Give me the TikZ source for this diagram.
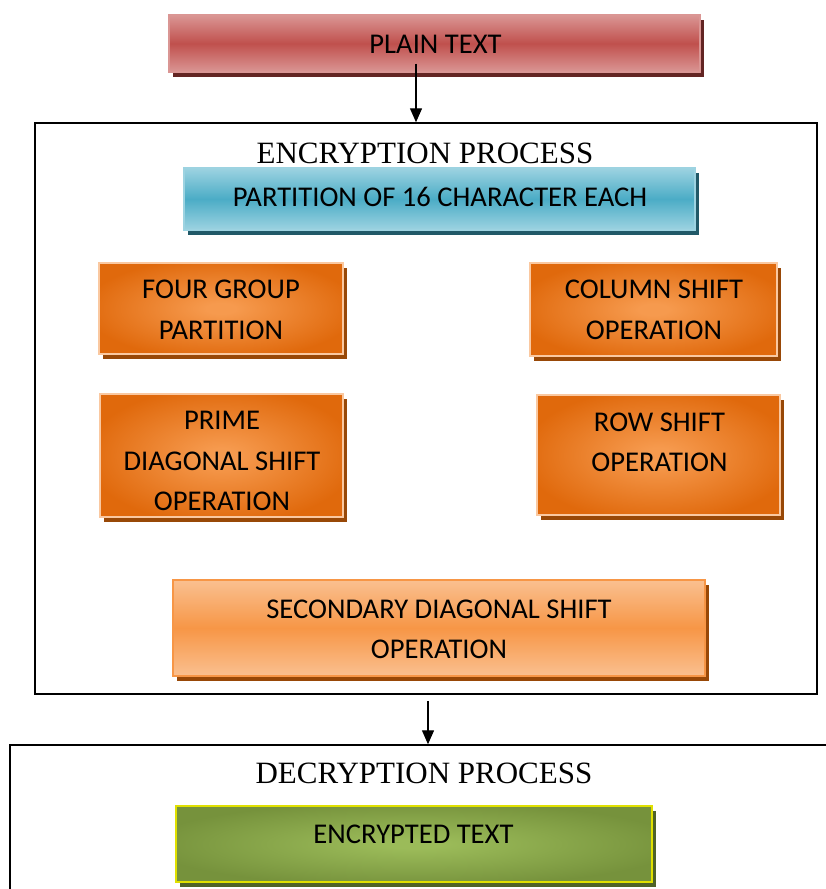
\documentclass[tikz,border=0pt]{standalone}
\usepackage{fontspec}
\setmainfont{Liberation Serif}
\newfontfamily\boxfont{Carlito}
\usetikzlibrary{arrows.meta,shadows}
\definecolor{plainM}{HTML}{C0504D}
\definecolor{plainL}{HTML}{DA9694}
\definecolor{plainS}{HTML}{632523}
\definecolor{partM}{HTML}{4BACC6}
\definecolor{partL}{HTML}{9DD3E1}
\definecolor{partS}{HTML}{215968}
\definecolor{orIn}{HTML}{F69A4E}
\definecolor{orOut}{HTML}{E0690C}
\definecolor{orB}{HTML}{FAC8A0}
\definecolor{orS}{HTML}{984807}
\definecolor{secL}{HTML}{FAC090}
\definecolor{secM}{HTML}{F79646}
\definecolor{grIn}{HTML}{9BBB59}
\definecolor{grOut}{HTML}{76923C}
\definecolor{grB}{HTML}{E0E000}
\definecolor{grS}{HTML}{4F6228}
\pgfdeclareradialshading{orradial}{\pgfpoint{0bp}{0bp}}{color(0bp)=(orIn); color(3bp)=(orIn); color(28bp)=(orOut); color(50bp)=(orOut)}
\pgfdeclareradialshading{grradial}{\pgfpoint{0bp}{0bp}}{color(0bp)=(grIn); color(3bp)=(grIn); color(28bp)=(grOut); color(50bp)=(grOut)}
\begin{document}
\begin{tikzpicture}[x=1pt,y=-1pt,
  boxbase/.style={rectangle, inner sep=0pt, line width=1.3pt},
  shad/.style={general shadow={fill=#1, shadow xshift=4pt, shadow yshift=-5pt}},
  lbl/.style={font=\boxfont\fontsize{28.6}{40.5}\selectfont, align=center, inner sep=0pt},
  ttl/.style={font=\fontsize{31}{36}\selectfont, inner sep=0pt},
  frame/.style={draw=black, line width=1.5pt, rectangle, inner sep=0pt},
  arr/.style={line width=1.4pt, -{Triangle[length=14pt,width=12pt]}},
  orbox/.style={boxbase, draw=orB, shading=orradial, shad=orS}
]
\useasboundingbox (0,0) rectangle (826,889);
\clip (0,0) rectangle (826,889);

% outer frames
\node[frame, minimum width=782pt, minimum height=571pt] (enc) at (426,408.5) {};
\node[frame, minimum width=890pt, minimum height=300pt] (dec) at (455,895) {};

% plain text
\node[boxbase, draw=plainL, top color=plainL, bottom color=plainL, middle color=plainM, shad=plainS,
      minimum width=531pt, minimum height=57pt] (plain) at (434.5,43.5) {};
\node[lbl] (plaint) at (435.5,44) {PLAIN TEXT};

% titles
\node[ttl] (enctitle) at (425,153) {ENCRYPTION PROCESS};
\node[ttl] (dectitle) at (424,773) {DECRYPTION PROCESS};

% partition
\node[boxbase, draw=partL, top color=partL, bottom color=partL, middle color=partM, shad=partS,
      minimum width=511pt, minimum height=62pt] (part) at (439.5,199) {};
\node[lbl] (partt) at (440,197) {PARTITION OF 16 CHARACTER EACH};

% orange boxes
\node[orbox, minimum width=244pt, minimum height=91pt] (four) at (221,308.5) {};
\node[lbl] (fourt) at (221,310) {FOUR GROUP\\PARTITION};

\node[orbox, minimum width=247pt, minimum height=93pt] (col) at (653.5,309.5) {};
\node[lbl] (colt) at (654,310) {COLUMN SHIFT\\OPERATION};

\node[orbox, minimum width=243pt, minimum height=123pt] (prime) at (221.5,455.5) {};
\node[lbl] (primet) at (222,461) {PRIME\\DIAGONAL SHIFT\\OPERATION};

\node[orbox, minimum width=243pt, minimum height=120pt] (row) at (658.5,455) {};
\node[lbl] (rowt) at (659.5,442.5) {ROW SHIFT\\OPERATION};

% secondary
\node[boxbase, draw=secM, top color=secL, bottom color=secL, middle color=secM, shad=orS,
      minimum width=532pt, minimum height=96pt] (sec) at (439,628) {};
\node[lbl] (sect) at (439,629.5) {SECONDARY DIAGONAL SHIFT\\OPERATION};

% encrypted text
\node[boxbase, draw=grB, shading=grradial, shad=grS,
      minimum width=476pt, minimum height=76pt] (etext) at (414,844) {};
\node[lbl] (etextt) at (413.5,834) {ENCRYPTED TEXT};

% arrows
\draw[arr] ([xshift=-18.5pt,yshift=9pt]plain.south) -- ([xshift=-18.5pt]plain.south |- enc.north);
\draw[arr] ([xshift=2pt,yshift=-6pt]enc.south) -- ([xshift=2pt]enc.south |- dec.north);
\end{tikzpicture}
\end{document}
